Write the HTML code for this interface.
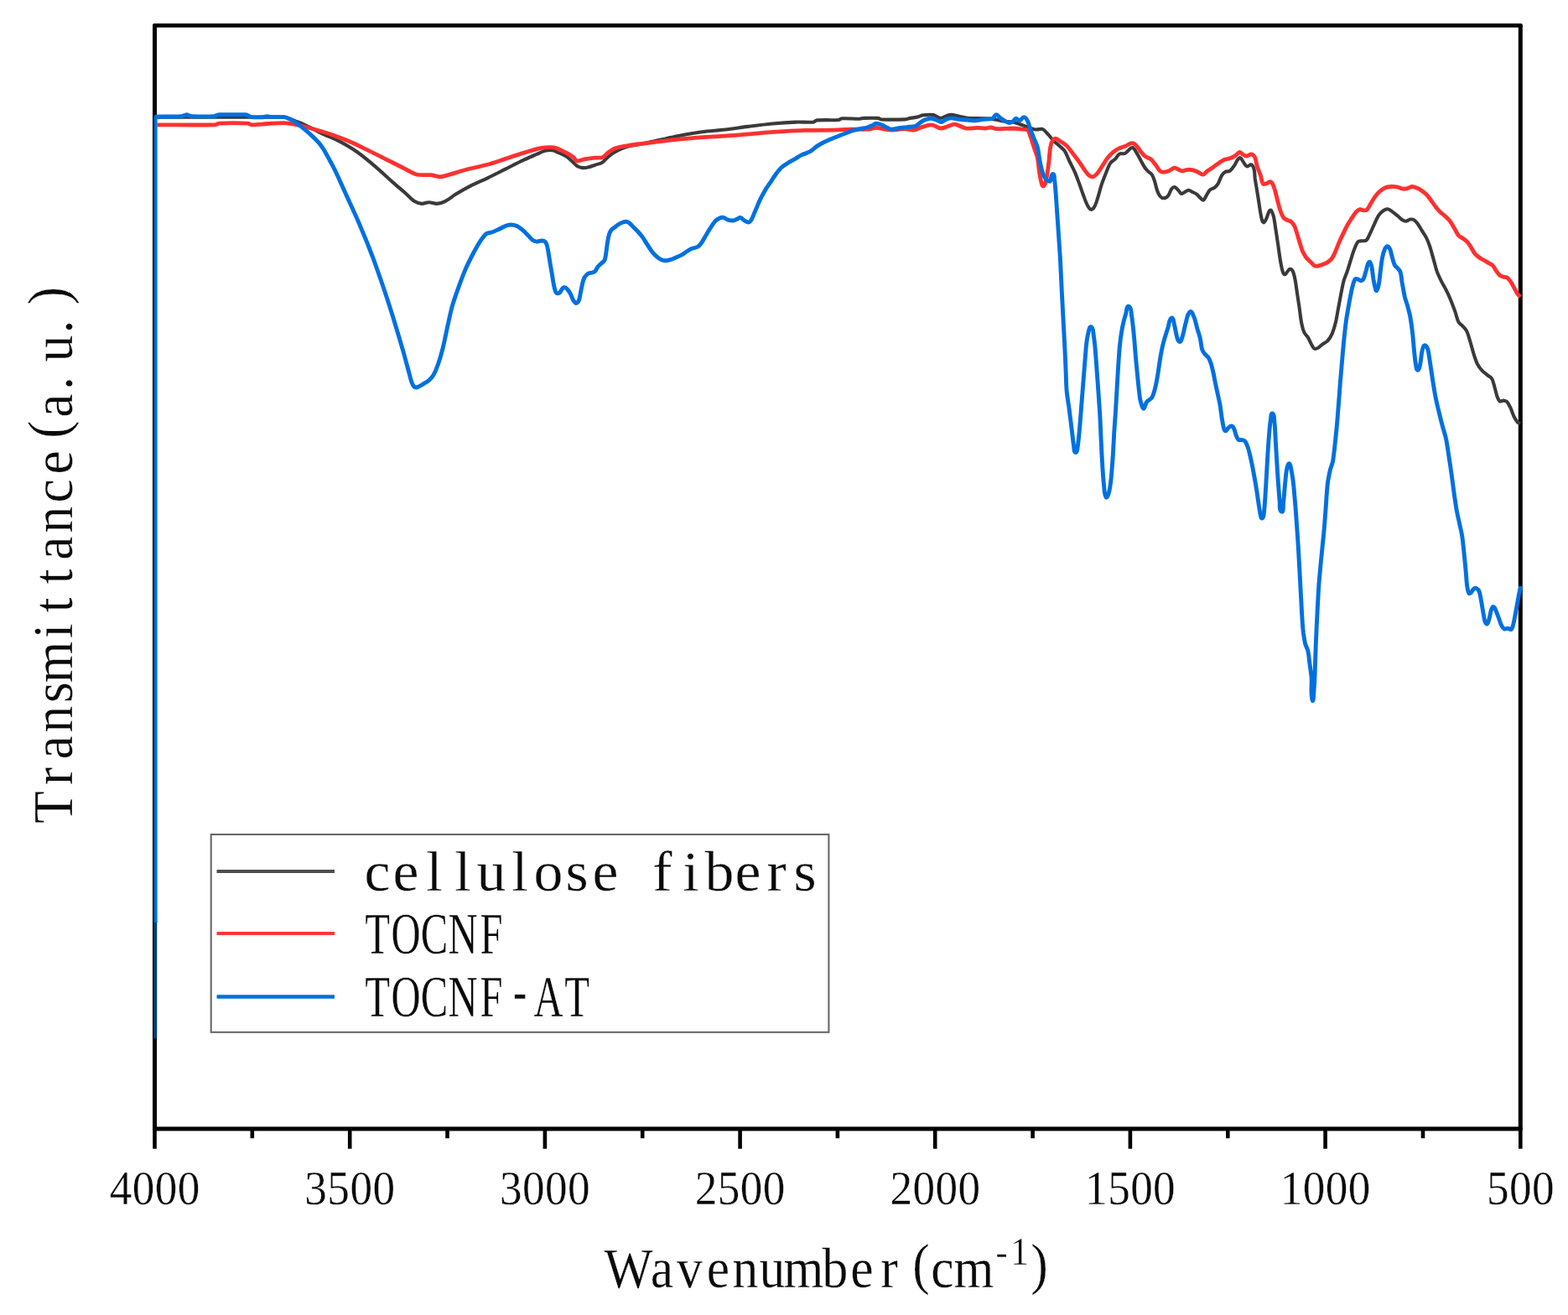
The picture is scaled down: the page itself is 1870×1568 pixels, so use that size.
<!DOCTYPE html>
<html lang="en">
<head>
<meta charset="utf-8">
<title>Transmittance - Wavenumber</title>
<style>
html,body{margin:0;padding:0;background:#fff;}
body{width:1870px;height:1568px;}
svg{display:block;}
text{font-family:"Liberation Serif","Noto Serif CJK SC",serif;fill:#0a0a0a;stroke:#fff;stroke-width:0.3px;}
</style>
</head>
<body>
<svg width="1870" height="1568" viewBox="0 0 1870 1568">
<rect width="1870" height="1568" fill="#fff"/>
<g id="axes" fill="none" stroke="#000" stroke-linecap="round">
<path d="M184.5 30.4 H1813.3" stroke-width="4.6"/>
<path d="M184.5 1345.9 H1813.3" stroke-width="5"/>
<path d="M184.5 30.4 V1345.9 M1813.3 30.4 V1345.9" stroke-width="5"/>
<path d="M184.5 1345.9 V1369.8M300.8 1345.9 V1357.3M417.2 1345.9 V1369.8M533.5 1345.9 V1357.3M649.9 1345.9 V1369.8M766.2 1345.9 V1357.3M882.6 1345.9 V1369.8M998.9 1345.9 V1357.3M1115.2 1345.9 V1369.8M1231.6 1345.9 V1357.3M1347.9 1345.9 V1369.8M1464.3 1345.9 V1357.3M1580.6 1345.9 V1369.8M1697 1345.9 V1357.3M1813.3 1345.9 V1369.8" stroke-width="4.6" stroke-linecap="butt"/>
</g>
<g id="curves" fill="none" stroke-linejoin="round" stroke-linecap="butt">
<path id="c-black" stroke="#3a3a3a" stroke-width="4.1" d="M184.3 139.8C230.5 139.8 292.1 139.4 338.3 139.8C340.3 139.8 342.8 140.5 344.7 141.1C346.7 141.7 349.2 143.1 351.1 143.9C354.3 145.2 358.7 146.7 361.8 148.1C368.3 151.2 376.7 155.7 383.2 158.8C389.6 161.8 398.4 165.2 404.6 168.4C411.2 171.9 419.9 177 426 181.3C432.7 186 441.1 193.1 447.4 198.4C454 204 462.3 211.9 468.8 217.6C473.2 221.6 479.3 226.6 483.7 230.5C487 233.3 490.8 237.8 494.4 240.1C496.7 241.6 500.3 242.7 503 242.9C505.6 243.1 508.9 241.2 511.6 241.2C514.5 241.2 518.2 243.1 521.2 242.9C524.2 242.7 528.1 241.5 530.8 240.1C534.9 238 539.7 234 543.6 231.6C548.7 228.5 555.5 224.6 560.7 221.9C566.8 218.8 575.2 215.3 581.4 212.3C587.8 209.2 596.4 204.8 602.8 201.6C609.2 198.4 617.7 194 624.2 190.9C629.2 188.5 636.1 185.7 641.3 183.4C643.8 182.3 647.1 180.5 649.8 179.8C652.3 179.2 655.9 178.8 658.4 179.1C661.1 179.6 664.4 181.3 667 182.4C669.6 183.5 673.1 185.1 675.5 186.6C677.6 188 680 190.3 681.9 192C683.9 193.7 686.1 196.6 688.3 198C690.1 199.1 692.7 199.9 694.8 200.1C696.7 200.3 699.3 199.9 701.2 199.5C703.8 198.9 707.2 197.5 709.7 196.7C712.3 195.8 716 195.1 718.3 193.7C720.5 192.3 722.7 189.4 724.7 187.7C726.6 186 729 183.7 731.1 182.4C734.2 180.5 738.5 178.3 741.8 177C744.9 175.8 749.2 174.5 752.5 173.8C758.9 172.4 767.5 171 773.9 169.7C780.3 168.4 788.9 166.4 795.3 165C799.5 164.1 805.2 162.8 809.4 162C817.7 160.5 828.8 158.5 837.2 157.3C845.5 156.2 856.7 155.5 865 154.5C873.2 153.6 884 151.9 892.2 150.9C900.8 149.8 912.2 148.3 920.9 147.5C929.2 146.7 940.3 145.9 948.7 145.6C955 145.3 963.6 146.1 969.9 145.6C971.4 145.4 972.8 143.5 974.2 143.4C981.9 142.8 992.2 143.5 999.9 143C1001.3 142.9 1002.8 141.4 1004.2 141.3C1010.6 141 1019.1 141.8 1025.6 141.7C1026.9 141.7 1028.5 140.9 1029.8 140.9C1035 140.7 1041.8 140.5 1047 140.9C1048.3 141 1049.9 142.3 1051.2 142.4C1059.6 142.7 1070.7 142.7 1079 142.4C1081 142.3 1083.5 141.2 1085.5 140.9C1088 140.4 1091.5 140.2 1094 139.6C1096 139.1 1098.4 137.7 1100.4 137.4C1104.2 136.9 1109.5 136.4 1113.3 137C1116 137.5 1119 140.8 1121.8 140.9C1124.6 140.9 1127.7 138.1 1130.4 137.4C1132.2 137 1134.9 136.8 1136.8 137C1139.4 137.3 1142.8 138.6 1145.3 139.1C1147.9 139.7 1151.3 140.7 1153.9 140.9C1160.3 141.3 1168.9 141 1175.3 141.3C1178.5 141.4 1182.8 141.9 1186 142.4C1189.2 142.8 1193.4 144 1196.7 144.5C1199.9 145 1204.2 144.9 1207.4 145.6C1210.7 146.2 1214.9 147.7 1218.1 148.8C1220.7 149.6 1224 151.1 1226.6 152C1229.2 152.8 1232.5 154.3 1235.2 154.5C1237.4 154.8 1240.4 153.5 1242.7 153.7C1243.6 153.8 1244.7 154.6 1245.3 155.2C1247.1 156.8 1249.1 159.2 1250.7 161C1252.7 163.2 1255 166.4 1257.1 168.5C1258.9 170.3 1261.7 172.2 1263.5 173.9C1265.5 175.7 1268.5 178 1269.9 180.3C1272.1 183.5 1273.6 188.5 1275.3 192C1277.2 195.9 1280 200.9 1281.7 204.9C1283.5 209 1285.5 214.6 1287.1 218.8C1288.7 223.2 1290.7 229.3 1292.4 233.7C1293.6 237 1295.1 241.4 1296.7 244.4C1297.7 246.3 1299 249.3 1301 249.8C1302.5 250.2 1304.4 248 1305.2 246.6C1307.1 243.3 1308.4 238.4 1309.5 234.8C1310.9 230.4 1312.3 224.3 1313.8 219.8C1315.2 215.6 1317.4 210.1 1319.1 205.9C1320.6 202.4 1322.3 197.4 1324.5 194.2C1325.6 192.5 1328.4 191.3 1329.8 189.9C1331.6 188.1 1333 184.7 1335.2 183.5C1336.9 182.5 1339.8 183.8 1341.6 183C1343.6 182.1 1345.2 179.5 1347 178.1C1348 177.3 1349.5 175.6 1350.8 176C1352.4 176.5 1353.5 178.9 1354.4 180.3C1356.2 183 1358.2 187 1359.8 189.9C1361.4 192.8 1363.3 196.8 1365.1 199.5C1366.2 201.1 1368 203.1 1369.4 204.4C1370.6 205.6 1372.7 206.7 1373.7 208.1C1375.1 210.1 1376.1 213.2 1376.9 215.6C1378.1 219 1378.9 223.9 1380.1 227.3C1380.8 229.4 1381.9 232.1 1383.3 233.7C1384.3 234.9 1386.1 236.3 1387.6 236.3C1389.4 236.3 1391.8 235.1 1392.9 233.7C1394.8 231.6 1395.5 227.5 1397.2 225.2C1398 224.2 1399.6 222.9 1400.9 223C1402.3 223.3 1403.6 225.2 1404.7 226.3C1406.1 227.6 1407.2 230.4 1409 231C1410.4 231.4 1412 229.5 1413.3 228.8C1414.5 228.2 1416.1 226.7 1417.5 226.7C1419 226.7 1420.5 228.2 1421.8 228.8C1423.4 229.6 1425.7 230.5 1427.2 231.6C1428.6 232.7 1430.1 234.7 1431.4 235.9C1432.5 236.8 1433.8 239.2 1435.1 238.7C1437 237.8 1437.8 234.5 1438.9 232.7C1440.2 230.7 1441.5 227.8 1443.2 226.3C1444.5 225 1447.2 224.8 1448.6 223.7C1450.1 222.5 1451.8 220.5 1452.8 218.8C1454.4 216 1455.5 211.8 1457.1 209.1C1458.1 207.6 1459.8 205.7 1461.4 204.9C1462.8 204.1 1465.4 204.7 1466.7 203.8C1468.8 202.4 1470.7 199.4 1472.1 197.4C1473.6 195.3 1474.8 191.9 1476.4 189.9C1477 189.1 1478.3 187.7 1479.1 188.2C1480.8 189 1481.7 191.6 1482.8 193.1C1484 194.7 1485.1 197.8 1487.1 198.4C1488.7 199 1490.8 195.7 1492.4 196.3C1494.2 197 1495.1 199.8 1495.6 201.7C1496.5 204.9 1496.3 209.5 1496.7 212.8C1497.6 218.6 1499 226.3 1499.9 232.1C1501 238.5 1502.1 247.1 1503.2 253.5C1503.7 256.4 1504.3 260.3 1505.3 263.1C1505.6 264 1506.7 265.7 1507.4 265.2C1509 264.3 1509.9 261.6 1510.6 259.9C1511.8 257.4 1512.4 253.7 1513.9 251.3C1514.2 250.8 1515.6 250.4 1516 250.9C1517.3 252.7 1518.2 255.6 1518.8 257.8C1519.9 262.2 1520.6 268.2 1521.3 272.7C1522.2 277.9 1523.1 284.7 1523.9 289.8C1524.8 295.6 1525.7 303.3 1526.7 309.1C1527.4 313.3 1528.3 318.9 1529.5 323C1529.9 324.4 1530.6 327 1532 327.3C1533.4 327.5 1534.3 325 1535.2 324.1C1536.2 323.1 1537.1 321.1 1538.4 320.9C1539.6 320.7 1541.1 322 1541.7 323C1543 325.7 1543.8 329.7 1544.4 332.6C1545.5 337.7 1546.2 344.6 1547 349.7C1547.8 354.9 1548.8 361.7 1549.6 366.8C1550.4 372.6 1551.2 380.4 1552.4 386.1C1553 389.4 1554.1 393.8 1555.6 396.8C1556.4 398.7 1558.8 400.4 1559.8 402.1C1561.3 404.6 1562.7 408.2 1564.1 410.7C1565 412.2 1565.8 414.7 1567.3 415.6C1568.5 416.3 1570.4 415.6 1571.6 415C1573.4 414 1575.3 411.9 1577 410.7C1578.8 409.3 1581.8 408.1 1583.4 406.4C1585.4 404.2 1587.5 400.6 1588.7 397.9C1590.4 393.8 1592 388.2 1593 384C1594.2 378.9 1595.2 372 1596.2 366.8C1597.2 361.7 1598.4 354.9 1599.4 349.7C1600.3 345.2 1601.4 339.2 1602.6 334.8C1603.6 331.1 1605.7 326.6 1606.9 323C1608.3 318.9 1609.8 313.2 1611.2 309.1C1612.4 305.2 1613.9 300 1615.5 296.3C1616.5 293.7 1617.8 290.1 1619.7 288.1C1620.6 287.2 1622.7 287.5 1624 287.3C1625.6 287 1628.1 287.7 1629.4 286.6C1631.3 285 1632.5 281.5 1633.6 279.1C1635.4 275.7 1637.3 270.9 1639 267.4C1640.5 264.1 1642.3 259.7 1644.3 256.7C1645.6 254.8 1647.8 252.6 1649.7 251.3C1651.1 250.3 1653.3 249 1655 249.2C1656.9 249.4 1658.8 251.3 1660.4 252.4C1662.4 253.8 1664.9 255.8 1666.8 257.3C1668.4 258.7 1670.4 260.8 1672.1 262C1673.3 262.8 1675 263.8 1676.4 263.7C1678.1 263.7 1680.1 261.9 1681.8 261.6C1683 261.4 1684.9 261.4 1686 262C1687.6 262.9 1689.2 264.9 1690.3 266.3C1692.1 268.7 1694.1 272.3 1695.7 274.9C1697.3 277.4 1699.7 280.7 1701 283.4C1702.6 286.5 1704.2 290.8 1705.3 294.1C1706.8 298.5 1708.3 304.6 1709.6 309.1C1710.9 313.6 1712.3 319.7 1713.9 324.1C1715.2 327.7 1717.5 332.4 1719.2 335.8C1720.7 338.8 1723.1 342.5 1724.5 345.5C1726.3 348.9 1728.4 353.6 1729.9 357.2C1731.6 361.3 1733.7 366.9 1735.2 371.1C1736.6 374.9 1737.6 380.4 1739.5 384C1740.6 386 1743.3 387.6 1744.9 389.3C1746.2 390.8 1748.3 392.8 1749.1 394.7C1750.9 398.3 1752.2 403.6 1753.4 407.5C1754.8 412 1756.3 418 1757.7 422.5C1758.8 426 1760.3 430.9 1762 434.2C1763.2 436.7 1765.5 439.7 1767.3 441.7C1769 443.6 1771.8 445.5 1773.7 447.1C1775.3 448.4 1778 449.6 1779.1 451.3C1780.7 453.9 1781.4 458 1782.3 461C1783.4 464.5 1784.3 469.3 1785.5 472.7C1786.2 474.6 1787.1 477.4 1788.7 478.5C1789.8 479.2 1791.7 477.5 1793 477.6C1794.4 477.7 1796.3 478.2 1797.3 479.1C1799.1 481 1800.4 484.3 1801.6 486.6C1803 489.8 1804.3 494.2 1805.8 497.3C1806.9 499.4 1808.5 502.1 1810.1 503.7C1810.8 504.5 1812.4 504.5 1813.3 504.8"/>
<path id="c-red" stroke="#ff3030" stroke-width="4.8" d="M187.5 148.8C208.3 148.8 236.2 149.3 257 148.8C258.4 148.7 259.9 147.1 261.3 147.1C271.5 146.6 285.3 146.6 295.5 147.1C296.9 147.1 298.4 148.7 299.8 148.8C305.6 148.9 313.3 147.8 319 147.5C324.8 147.2 332.5 146.5 338.3 146.6C342.2 146.7 347.3 147.4 351.1 148.1C357.6 149.4 366.1 151.7 372.5 153.5C379 155.3 387.6 157.7 393.9 159.9C400.4 162.1 409 165.3 415.3 168C421.8 170.8 430.3 175 436.7 178.1C443.1 181.2 451.7 185.6 458.1 188.8C464.5 192 473 196.3 479.5 199.5C484.6 202 491 206.5 496.6 208C501.5 209.4 508.6 208.2 513.7 208.7C516.9 209 521.1 210.7 524.4 210.8C527 210.9 530.4 209.8 532.9 209.1C539.4 207.3 547.9 204.4 554.3 202.7C562.4 200.5 573.3 198.5 581.4 196.3C587.9 194.5 596.4 191.5 602.8 189.4C609.2 187.3 617.7 184.4 624.2 182.4C629.3 180.8 636.1 178.7 641.3 177.4C643.8 176.8 647.2 176.1 649.8 175.9C653 175.7 657.4 175.4 660.5 175.9C663.2 176.4 666.6 178 669.1 179.1C671.7 180.3 675.2 182 677.6 183.4C679.7 184.6 682.3 186.3 684.1 187.7C685.5 188.8 686.6 191.7 688.3 192C691 192.4 694.3 190.3 696.9 189.8C700.7 189.2 705.9 188.5 709.7 188.1C712.3 187.9 715.9 188.6 718.3 187.7C720.6 186.8 722.7 183.8 724.7 182.4C727.2 180.6 730.5 178.2 733.3 177C736.3 175.8 740.7 175.1 744 174.4C747.8 173.7 752.9 172.8 756.8 172.3C760.1 171.9 764.4 171.6 767.7 171.2C776.1 170.2 787.2 168.6 795.5 167.6C803.8 166.6 815 165.5 823.3 164.8C831.6 164.1 842.8 163.4 851.1 162.9C859.5 162.3 870.6 161.8 878.9 161.2C887.3 160.5 898.5 159.3 907 158.6C915.3 157.9 926.4 157.2 934.8 156.7C942.3 156.2 952.4 155.6 960 155.4C969.4 155.2 981.9 155.4 991.3 155.2C998.4 155 1007.8 154.3 1014.9 154.1C1021.3 154 1029.9 154.5 1036.3 154.1C1038.9 154 1042.2 152.4 1044.8 152.4C1048.1 152.4 1052.3 153.7 1055.5 154.1C1058.1 154.5 1061.5 155.2 1064.1 155.2C1068.6 155.1 1074.5 153.7 1079 153.7C1082.3 153.7 1086.5 155.5 1089.7 155.2C1092.5 154.9 1095.7 152.8 1098.3 152C1102.1 150.8 1107.2 148.6 1111.1 148.8C1114.6 148.9 1118.4 152.9 1121.8 153C1125.2 153.2 1129.3 150.8 1132.5 149.8C1134.4 149.3 1137 147.8 1138.9 148.1C1143 148.8 1147.7 152.4 1151.8 153C1155.6 153.7 1160.7 152.4 1164.6 152.4C1167.8 152.4 1172.1 153.1 1175.3 153C1177.2 153 1179.8 151.9 1181.7 152C1183.7 152.1 1186.1 153.6 1188.1 153.7C1193.9 153.9 1201.6 153 1207.4 153C1210.6 153.1 1214.9 153.7 1218.1 154.1C1220.3 154.4 1223.8 153.8 1225.6 155.2C1227.5 156.7 1227.9 160.4 1228.8 162.7C1230.2 166.5 1231.8 171.7 1233 175.5C1234.3 179.4 1236.5 184.4 1237.3 188.3C1238.4 193.4 1238.7 200.3 1239.5 205.5C1240 208.7 1240.7 213 1241.6 216.1C1242.1 218 1242.4 222.2 1244.3 222C1246.4 221.8 1247 217.7 1247.5 215.6C1248.9 209.2 1249.8 200.6 1250.7 194.2C1251.6 187.8 1251.6 179 1253.3 172.8C1253.9 170.2 1255.7 166.2 1258.2 165.3C1260.2 164.5 1262.8 167.4 1264.6 168.5C1266.9 169.9 1270.1 171.9 1272.1 173.9C1275 176.8 1278.1 181.3 1280.6 184.5C1282.6 187.1 1285.2 190.5 1287.1 193.1C1289.1 195.9 1291.4 199.9 1293.5 202.7C1295 204.7 1296.9 207.5 1298.8 209.1C1299.9 210 1301.8 211.2 1303.1 210.9C1305 210.4 1307.1 208.5 1308.4 207C1310.7 204.4 1312.9 200.3 1314.9 197.4C1316.8 194.5 1319.1 190.5 1321.3 187.8C1323 185.6 1325.6 183.1 1327.7 181.3C1329.5 179.9 1332 178.1 1334.1 177.1C1336.6 175.8 1340.1 174.9 1342.7 173.9C1344.9 172.9 1347.7 170.6 1350.2 170.6C1352 170.6 1354.2 172.5 1355.5 173.9C1357.5 175.8 1359.1 179.2 1360.9 181.3C1362.3 183.1 1364.4 185.4 1366.2 186.7C1367.9 188 1371 188.5 1372.6 189.9C1374.6 191.5 1376.4 194.3 1378 196.3C1379.7 198.5 1381.3 201.9 1383.3 203.8C1384.3 204.7 1386.2 205.3 1387.6 205.3C1389.6 205.3 1392.2 204.5 1394 203.8C1396.1 203 1398.2 200.4 1400.4 200.2C1402.1 199.9 1404.2 201.7 1405.8 202.3C1407 202.8 1408.7 203.8 1410.1 203.8C1412 203.8 1414.5 202.5 1416.5 202.3C1418.1 202.2 1420.2 202.4 1421.8 202.7C1423.8 203.2 1426.4 204.1 1428.2 204.9C1430.2 205.7 1432.5 208.3 1434.7 208.1C1436.7 207.9 1438.3 205 1440 203.8C1442.2 202.2 1445.3 200.4 1447.5 198.9C1449.4 197.5 1451.9 195.5 1453.9 194.2C1455.8 192.9 1458.2 191.2 1460.3 190.3C1462.1 189.6 1464.9 189.5 1466.7 188.8C1468.8 188.1 1471.3 186.8 1473.2 185.6C1474.9 184.5 1476.5 181.6 1478.5 181.3C1480.1 181.2 1481.4 183.8 1482.8 184.5C1484 185.2 1485.7 186.1 1487.1 186C1488.8 185.9 1490.7 183.6 1492.4 183.9C1494.1 184.2 1495.9 186.2 1496.7 187.8C1498.1 190.7 1498.3 195.3 1499.3 198.4C1500.2 201.6 1502.1 205.5 1503.2 208.6C1504.2 211.7 1504.4 216.5 1506.4 219.3C1507.1 220.3 1509.4 219.2 1510.6 218.8C1512 218.4 1513.5 216.4 1514.9 216.7C1516.3 217 1517.5 219 1518.1 220.3C1519.5 223.1 1520.5 227 1521.3 229.9C1522.4 233.8 1523.5 239 1524.5 242.8C1525.4 246 1526.6 250.3 1527.8 253.5C1528.5 255.5 1529.6 258.2 1531 259.9C1531.9 261 1533.9 261.8 1535.2 262.5C1536.5 263.1 1538.5 263.3 1539.5 264.2C1541.1 265.5 1542.9 267.7 1543.8 269.5C1545.2 272.2 1546.1 276.2 1547 279.1C1548 282.3 1549.2 286.6 1550.2 289.8C1551.1 292.7 1552.2 296.7 1553.4 299.5C1554.5 301.8 1556.1 304.9 1557.7 307C1559.1 308.8 1561.4 310.7 1563 312.3C1564.3 313.6 1565.8 315.7 1567.3 316.6C1568.5 317.2 1570.3 317.4 1571.6 317.2C1573.3 317 1575.4 316.1 1577 315.5C1578.6 314.9 1580.8 314.3 1582.3 313.4C1584.1 312.3 1586.3 310.7 1587.6 309.1C1589.3 307.1 1590.8 303.9 1591.9 301.6C1593.4 298.5 1594.8 294.1 1596.2 290.9C1597.7 287.3 1599.9 282.6 1601.6 279.1C1603.1 275.9 1605.2 271.6 1606.9 268.4C1608.4 265.8 1610.6 262.4 1612.2 259.9C1613.8 257.6 1615.7 254.4 1617.6 252.4C1618.6 251.3 1620.4 249.9 1621.9 249.6C1623.2 249.4 1624.8 250.8 1626.1 250.9C1627.3 251 1629.2 251.1 1630 250.3C1631.9 248.4 1633.3 245 1634.7 242.8C1636.3 240.2 1638.3 236.7 1640.1 234.2C1641.5 232.3 1643.6 229.8 1645.4 228.2C1647.1 226.7 1649.7 224.9 1651.8 224C1653.6 223.1 1656.3 222.6 1658.2 222.5C1660.8 222.3 1664.3 222.6 1666.8 223.1C1668.8 223.5 1671.2 225 1673.2 225.2C1674.8 225.4 1677 225 1678.6 224.6C1680.2 224.2 1682.2 222.6 1683.9 222.5C1685.6 222.4 1687.7 223.3 1689.3 224C1690.9 224.6 1693.1 225.7 1694.6 226.7C1696.6 228.1 1699.3 229.9 1701 231.7C1702.9 233.5 1704.8 236.4 1706.4 238.5C1708 240.7 1710 243.8 1711.7 246C1713.2 248 1715.3 250.6 1717.1 252.4C1718.5 253.9 1720.9 255.3 1722.4 256.7C1724.4 258.5 1727.1 261 1728.8 263.1C1730.7 265.5 1732.6 269.1 1734.2 271.7C1735.8 274.4 1737.5 278.4 1739.5 280.9C1740.8 282.3 1743.3 283.3 1744.9 284.5C1746.5 285.7 1748.8 287.2 1750.2 288.8C1751.8 290.5 1753.3 293.2 1754.5 295.2C1755.8 297.3 1757.2 300.3 1758.8 302.2C1760.1 303.9 1762.4 305.7 1764.1 307C1765.6 308.1 1767.9 309.2 1769.5 310.2C1771.1 311.1 1773.2 312.4 1774.8 313.4C1776.4 314.3 1778.8 315.3 1780.2 316.6C1781.8 318.2 1783.1 321.1 1784.4 323C1785.6 324.7 1787.1 327 1788.7 328.3C1789.8 329.2 1791.7 329.7 1793 330.1C1794.2 330.4 1796.2 330.2 1797.3 330.9C1798.9 332 1800.4 334.2 1801.6 335.8C1803 338 1804.5 341.1 1805.8 343.3C1807.1 345.6 1808.6 348.7 1810.1 350.8C1810.9 351.9 1812.4 353 1813.3 354"/>
<path stroke="#003a74" stroke-width="4.2" d="M185.1 1238.5 V1098"/>
<path stroke="#0050a4" stroke-width="2" d="M184 1100 V139"/>
<path stroke="#0078e4" stroke-width="2.7" d="M186.3 1100 V137"/>
<path id="c-blue" stroke="#0070e0" stroke-width="4.9" d="M184.3 139.1C193.9 139 206.7 139.1 216.4 138.7C217.4 138.7 218.6 137.9 219.6 137.6C220.5 137.4 221.8 136.8 222.8 136.8C223.8 136.8 225 137.6 226 137.9C226.9 138.1 228.2 138.7 229.2 138.7C236.9 138.9 247.2 139 254.9 138.7C255.9 138.7 257.1 137.9 258.1 137.6C259 137.4 260.3 136.8 261.3 136.8C270.9 136.6 283.7 136.4 293.4 136.8C294.4 136.8 295.6 137.7 296.6 138.1C297.6 138.5 298.7 139.5 299.8 139.6C303.6 140 308.8 139.9 312.6 139.8C313.6 139.8 314.9 139.3 315.8 139.1C316.8 139 318.1 138.7 319 138.7C320.3 138.8 322 139.3 323.3 139.4C327.2 139.6 332.3 139.5 336.1 139.6C337.3 139.6 338.9 139.3 340 139.7C343.2 140.8 347.3 142.6 350.2 144.3C353.5 146.3 357.4 149.5 360.4 151.9C363.5 154.4 367.6 157.9 370.6 160.6C373.8 163.5 377.9 167.6 380.8 170.8C382.5 172.8 384.5 175.8 385.9 178C387.6 180.7 389.5 184.4 391 187.1C392.5 189.9 394.6 193.5 396.1 196.3C397.7 199.3 399.7 203.4 401.2 206.5C402.8 209.9 404.8 214.4 406.3 217.8C407.8 221.2 409.9 225.6 411.4 229C412.9 232.4 415 236.8 416.5 240.2C418 243.6 420.1 248 421.6 251.4C423.1 254.8 425.2 259.3 426.7 262.7C428.3 266.3 430.3 271.2 431.8 274.9C433.3 278.6 435.4 283.4 436.9 287.1C439.3 293.2 442.5 301.3 444.8 307.4C447.7 315.1 451.3 325.5 454 333.3C456.9 341.6 460.6 352.7 463.3 361.1C466.2 370 469.8 381.8 472.5 390.7C475.4 400.1 479.1 412.7 481.8 422.1C483.5 428.2 485.6 436.4 487.3 442.5C488.4 446.5 489.6 452 491 455.9C491.6 457.5 492.6 459.7 493.8 461C494.4 461.7 495.7 462.2 496.6 462C499 461.4 501.8 459.5 504 458.3C506.3 457 509.4 455.3 511.4 453.6C513.3 451.9 515.6 449.4 516.9 447.2C519 443.5 521.1 438.2 522.5 434.2C524.4 428.7 526.6 421.3 528 415.7C529.9 408 531.9 397.6 533.6 389.8C535.2 382.6 537.1 372.9 539.1 365.8C541 359 544.1 350.2 546.5 343.6C549.1 336.3 552.7 326.6 555.8 319.5C558.3 313.8 562.1 306.5 565 301C567.1 297.1 569.9 291.8 572.4 288.1C574.4 285.1 577.2 281 580 278.8C581.6 277.5 584.6 277.7 586.5 277C588.8 276.2 591.8 274.8 594 273.8C596.6 272.6 599.9 270.6 602.6 269.5C604.4 268.8 607 268 609 268C611.3 268 614.4 268.6 616.5 269.5C619 270.7 621.9 273.1 624 274.9C626 276.6 628.4 279.4 630.4 281.3C632 282.9 633.9 285.3 635.7 286.6C636.8 287.4 638.6 288 640 288.1C641.3 288.2 643 287.4 644.3 287.3C645.6 287.1 647.4 286.7 648.6 287.3C649.9 287.9 651.2 289.6 651.8 290.9C652.9 293.7 653.4 297.6 653.9 300.5C654.6 304.4 655.4 309.5 656 313.4C656.7 317.2 657.5 322.4 658.2 326.2C658.8 330.1 659.6 335.2 660.3 339C660.8 341.6 661.5 345.1 662.5 347.6C662.8 348.4 663.7 349.6 664.6 349.7C665.6 349.9 667.1 349.4 667.8 348.7C669.1 347.5 669.7 344.9 671 343.7C671.8 343.1 673.3 342.6 674.2 342.9C675.5 343.3 676.6 344.9 677.4 345.9C678.5 347.3 679.8 349.2 680.6 350.8C681.8 353 682.6 356.2 683.9 358.3C684.6 359.5 685.7 361.6 687.1 361.5C688.6 361.4 689.9 359.2 690.5 357.8C691.6 355 692 351 692.6 348.1C693.3 344.9 694 340.6 694.8 337.4C695.3 335.5 695.9 332.8 696.9 331C697.9 329.4 699.6 327.3 701.2 326.3C702.6 325.4 705 325.5 706.5 325C707.5 324.7 709 324.3 709.7 323.5C711 322.2 711.8 319.7 712.9 318.2C714.1 316.7 715.9 315.2 717.2 313.9C718.3 312.9 720.2 312 720.9 310.7C721.9 308.6 722.2 305.5 722.6 303.2C723.2 299.4 723.7 294.2 724.3 290.4C724.8 287.1 725.5 282.8 726.4 279.7C726.9 278 727.9 275.7 729 274.3C730.3 272.7 732.7 271.3 734.3 270.1C735.9 268.9 737.9 267.3 739.7 266.4C741.5 265.5 744.1 264.4 746.1 264.3C747.5 264.2 749.3 265 750.4 265.8C752.2 267.1 754.1 269.5 755.7 271.1C757.3 272.7 759.5 274.8 761.1 276.5C762.8 278.3 765 280.8 766.4 282.9C768.2 285.4 770.1 288.9 771.8 291.4C773.3 293.8 775.4 297.1 777.1 299.4C778.6 301.3 780.7 303.7 782.5 305.3C783.9 306.7 786 308.3 787.8 309.2C789.3 309.9 791.5 310.6 793.2 310.7C795.1 310.8 797.7 310.2 799.6 309.6C801.6 309.1 804.1 307.9 806 307.1C808.3 306.1 811.3 304.8 813.5 303.6C815.2 302.7 817.2 301 818.8 300C820.4 299 822.5 297.5 824.2 296.8C825.7 296.1 828 295.9 829.5 295.3C830.9 294.8 832.7 294 833.8 292.9C835.4 291.5 836.9 289 838.1 287.2C839.5 285 841 281.9 842.4 279.7C843.9 277.1 846 273.6 847.7 271.1C849.2 268.8 851.1 265.6 853 263.6C854.4 262.2 856.6 260.8 858.4 260C859.6 259.5 861.4 259.1 862.7 259.4C864.4 259.8 866.3 261.6 868 262.1C869.9 262.7 872.5 263.2 874.4 263C876.2 262.8 878.2 261.5 879.8 260.9C880.8 260.4 882 259.1 883 259.4C884.6 259.7 885.9 261.7 887.3 262.6C888.8 263.5 890.8 265.1 892.6 265.1C893.9 265.1 895.2 263.6 895.8 262.6C897.5 259.9 898.8 255.8 900.1 252.9C902.1 248.5 904.4 242.4 906.5 238C908.3 234.3 910.9 229.7 912.9 226.2C914.7 223.2 917.4 219.5 919.4 216.6C921.3 213.7 923.7 209.7 925.8 207C927.6 204.6 930 201.4 932.2 199.5C934.5 197.4 938.1 195.3 940.7 193.7C943.3 192.1 946.7 190.3 949.3 188.8C951.2 187.6 953.7 185.9 955.7 184.9C958.6 183.5 962.9 182.4 965.7 180.9C968.5 179.3 971.5 176.2 974.2 174.4C976.7 172.8 980.1 170.8 982.8 169.5C985.9 168 990.2 166.2 993.5 164.8C996.7 163.5 1001 161.8 1004.2 160.5C1007.4 159.3 1011.6 157.3 1014.9 156.3C1018 155.3 1022.3 154.4 1025.6 153.7C1028.1 153.1 1031.6 152.7 1034.1 152C1036.1 151.4 1038.6 150.2 1040.5 149.4C1041.8 148.8 1043.4 147.4 1044.8 147.3C1046.8 147.2 1049.4 148.1 1051.2 148.8C1053.3 149.5 1055.7 151.1 1057.6 152C1059.2 152.7 1061.3 154 1063 154.1C1065.3 154.3 1068.2 153.4 1070.5 153C1073.7 152.6 1078 152 1081.2 151.6C1084.4 151.1 1088.8 151.3 1091.9 150.3C1094.1 149.5 1096.3 146.8 1098.3 145.6C1100.1 144.4 1102.7 143 1104.7 142.4C1106.6 141.7 1109.2 141.1 1111.1 141.3C1113.1 141.5 1115.6 142.7 1117.5 143.4C1119.2 144 1121.2 145.7 1122.9 145.6C1124.7 145.4 1126.5 143 1128.2 142.4C1130.1 141.6 1132.7 140.9 1134.7 140.9C1137.3 140.9 1140.6 142.1 1143.2 142.4C1146.4 142.7 1150.7 142.7 1153.9 143C1156.5 143.2 1159.9 143.9 1162.5 143.9C1165.7 143.7 1169.9 142.7 1173.2 142.4C1176.4 142 1180.8 142.4 1183.9 141.3C1185.6 140.6 1186.2 136.8 1188.1 136.6C1189.8 136.4 1191.1 139.2 1192.4 140.2C1194.3 141.6 1196.8 143.4 1198.8 144.5C1200.3 145.3 1202.4 146.6 1204.2 146.6C1205.6 146.6 1207.3 145.3 1208.4 144.5C1209.6 143.7 1210.3 141.4 1211.7 141.3C1213.1 141.2 1214.5 144.1 1215.9 143.9C1218 143.5 1219.2 139.4 1221.3 139.6C1223.2 139.7 1224.7 142.8 1225.6 144.5C1227 147.2 1227.7 151.3 1228.8 154.1C1230 157.4 1231.8 161.6 1233 164.8C1234.3 168 1236.4 172.2 1237.3 175.5C1238.4 179.3 1238.8 184.5 1239.5 188.3C1240.1 191.6 1240.8 195.9 1241.6 199C1242.4 202.3 1243.4 206.7 1244.8 209.7C1245.7 211.6 1247.5 213.7 1249.1 215.1C1249.9 215.7 1251.6 216.9 1252.3 216.1C1254.1 214.1 1253 208.6 1255.5 207.6C1257.4 206.8 1257.4 212 1257.6 214C1258.9 224.1 1259.6 237.6 1260.3 247.6C1261 257.3 1261.8 270.1 1262.5 279.7C1263.1 289.4 1264.1 302.2 1264.6 311.8C1265.1 321.4 1265.6 334.3 1266.1 343.9C1266.6 353.5 1267.3 366.4 1267.8 376C1268.3 385.6 1269 398.4 1269.5 408.1C1270 417.7 1270.6 430.5 1271 440.2C1271.4 447.8 1271.4 458 1272.1 465.7C1272.7 472.8 1274.4 482.1 1275.3 489.2C1276.3 496.9 1277.5 507.2 1278.5 514.9C1279.1 520 1279.8 526.9 1280.6 532C1281 534.3 1280.4 539.5 1282.8 539.5C1285.2 539.5 1285 534.3 1285.3 532C1286.6 523.7 1287.4 512.5 1288.1 504.2C1290.4 477.3 1292.8 441.4 1295.2 414.5C1295.7 409.3 1296.5 402.4 1297.8 397.4C1298.4 395 1299 389.1 1301.4 389.9C1304.2 390.8 1303.7 396.6 1304.2 399.5C1305.3 406.5 1306.2 416 1306.7 423C1308.4 444.2 1310.3 472.3 1311.7 493.5C1312.3 503.1 1312.7 515.9 1313.2 525.6C1313.6 535.2 1314.3 548 1314.9 557.6C1315.3 564.1 1315.8 572.6 1316.6 579C1317.1 583.2 1316.8 589.4 1319.1 592.9C1320.2 594.5 1321.9 589.4 1322.4 587.6C1323.7 582.6 1324.6 575.7 1325.1 570.5C1326 562.2 1326.7 551 1327.3 542.7C1327.8 534.3 1328.3 523.2 1328.8 514.9C1329.2 508.4 1329.9 499.9 1330.3 493.5C1331.8 469.8 1333.3 438.2 1335.2 414.5C1335.8 407.4 1337.1 398 1338.4 391C1339.4 385.8 1341.1 378.9 1342.7 373.9C1343.5 371.2 1343.6 364.5 1346.3 365.3C1349.5 366.3 1348.9 372.7 1349.5 376C1350.7 383 1351.6 392.4 1352.3 399.5C1353.1 407.2 1353.7 417.5 1354.4 425.2C1355.8 439.9 1357.5 459.6 1359.4 474.2C1359.7 477.2 1360.9 481 1361.9 483.9C1362.3 484.9 1363.2 487.8 1364.1 487.1C1366 485.5 1366 481.6 1367.3 479.6C1367.9 478.5 1369.5 477.6 1370.5 476.8C1371.4 476 1373.1 475.3 1373.7 474.2C1375.1 471.9 1376.2 468.3 1376.9 465.7C1378.1 461.2 1379.3 455.2 1380.1 450.7C1381.6 442.4 1382.9 431.3 1384.4 423C1385.2 418.5 1386.4 412.5 1387.6 408.1C1389 402.9 1391.2 396.1 1392.9 391C1394.1 387.4 1394 381.1 1397.2 379.2C1399.3 378 1399.8 384.3 1400.4 386.7C1401.7 391.1 1402.3 397.3 1403.6 401.7C1404.2 403.6 1404.8 407.6 1406.8 407.6C1408.9 407.6 1409.4 403.6 1410.1 401.7C1411.7 396.6 1412.8 389.6 1414.3 384.5C1415.5 380.6 1415.8 374 1419.3 371.7C1421.2 370.4 1423 375.9 1424 378.1C1425.8 382.4 1426.9 388.6 1428.2 393.1C1429.2 396.3 1430.7 400.5 1431.4 403.8C1432.3 407.6 1432.5 412.9 1433.6 416.6C1434.1 418.4 1435.6 420.5 1436.8 422C1437.9 423.4 1440.1 424.7 1441.1 426.3C1442.4 428.3 1443.5 431.4 1444.3 433.7C1445.5 437.5 1446.6 442.7 1447.5 446.6C1447.9 448.4 1448.2 451 1448.6 452.8C1449.5 457.3 1450.8 463.3 1451.8 467.8C1452.7 472.3 1454.2 478.3 1455 482.8C1455.8 487.2 1456.4 493.3 1457.1 497.8C1457.7 501.3 1458.3 506.1 1459.3 509.5C1459.6 510.9 1460 513.5 1461.4 513.8C1462.7 514.1 1463.5 511.5 1464.6 510.6C1465.7 509.7 1467.1 508 1468.4 508C1469.6 508 1470.9 509.5 1471.4 510.6C1472.7 513 1473.2 516.6 1474.2 519.1C1474.9 520.8 1475.6 523.3 1477 524.5C1477.8 525.2 1479.6 524.3 1480.6 524.5C1481.8 524.7 1483.5 524.7 1484.3 525.6C1485.8 527.1 1486.9 529.9 1487.7 532C1488.9 535.1 1489.9 539.4 1490.7 542.7C1491.6 546.5 1492.7 551.6 1493.5 555.5C1494.4 560 1495.5 566 1496.3 570.5C1497.1 575 1498.1 581 1498.8 585.5C1499.5 589.9 1500.3 595.9 1501 600.4C1501.6 604.3 1502.2 609.5 1503.1 613.3C1503.5 614.8 1503.9 618.7 1505.2 618C1507.2 617 1507.1 613.3 1507.4 611.1C1508.2 604.7 1508.7 596.2 1509.1 589.7C1509.6 582 1510.1 571.8 1510.6 564.1C1511 556.4 1511.6 546.1 1512.1 538.4C1512.5 531.3 1513.2 521.9 1513.8 514.9C1514.2 510.4 1514.7 504.3 1515.5 499.9C1515.9 497.8 1515.7 492.1 1517.6 493C1520.1 494.3 1519.5 499.3 1519.8 502C1520.6 509.1 1520.9 518.5 1521.3 525.6C1521.8 533.3 1522.3 543.5 1522.8 551.2C1523.3 558.9 1523.9 569.2 1524.5 576.9C1525 583.3 1525.5 591.9 1526.2 598.3C1526.6 601.9 1525.1 608.4 1528.3 610.1C1531 611.4 1530.1 603.4 1530.5 600.4C1531.2 594.7 1531.6 586.9 1532.2 581.2C1532.7 576 1533.2 569.2 1533.9 564.1C1534.2 561.5 1534.8 558 1535.6 555.5C1535.9 554.6 1537 552.2 1537.8 552.9C1539.3 554.5 1539.4 557.7 1539.9 559.8C1540.7 563.6 1541.5 568.7 1542 572.6C1542.7 577.7 1543.3 584.6 1543.7 589.7C1544.3 596.1 1545 604.7 1545.5 611.1C1545.9 617.5 1546.5 626.1 1547 632.5C1547.4 638.9 1548.1 647.5 1548.4 653.9C1549 663.5 1549.6 676.4 1550.2 686C1550.7 695.6 1551.3 708.5 1551.9 718.1C1552.3 725.8 1552.8 736 1553.4 743.7C1553.6 747 1554 751.4 1554.4 754.6C1555 758.5 1555.6 763.6 1556.6 767.4C1557.2 770.1 1559.2 773.3 1559.8 776C1560.8 780.4 1561.3 786.5 1561.9 791C1562.6 796.1 1563.7 802.9 1564.1 808.1C1564.7 816.1 1562.8 827.1 1565.1 834.8C1566.5 839.5 1566.9 823.6 1567.3 818.8C1567.8 812.4 1568.1 803.8 1568.3 797.4C1568.7 787.8 1569 774.9 1569.4 765.3C1569.8 755.7 1570.4 742.8 1570.9 733.2C1571.4 723.6 1572 710.7 1572.6 701.1C1573.1 693.4 1574.1 683.2 1574.8 675.5C1575.3 669 1576.3 660.5 1576.9 654.1C1577.5 647.6 1578.5 639.1 1579 632.7C1579.8 624.3 1580.5 613.2 1581.2 604.9C1581.8 596.5 1582.3 585.4 1583.3 577.1C1583.9 571.9 1585.3 565 1586.5 559.9C1587.3 556.7 1589.2 552.6 1589.7 549.3C1591.5 537.6 1592.9 521.9 1594.1 510.2C1594.8 502.5 1595.6 492.2 1596.2 484.5C1596.9 476.2 1597.7 465 1598.3 456.7C1599 449 1599.8 438.7 1600.5 431C1601.1 424 1601.9 414.5 1602.6 407.5C1603.3 400.4 1604.3 391 1605.2 384C1605.9 378.8 1607.1 372 1608 366.8C1608.9 361.7 1610.1 354.8 1611.2 349.7C1611.8 346.5 1612.8 342.2 1613.7 339C1614.4 337 1615 334.1 1616.5 332.6C1617.2 331.9 1618.8 332.7 1619.7 333C1620.8 333.4 1621.9 334.8 1622.9 334.8C1624.1 334.7 1625.6 333.7 1626.1 332.6C1627.6 329.6 1628.4 325.1 1629.4 321.9C1630 319.7 1630.5 316.6 1631.5 314.4C1631.9 313.6 1632.9 311.8 1633.6 312.3C1635 313.3 1635.4 316 1635.8 317.6C1636.7 322.1 1637.2 328.1 1637.9 332.6C1638.5 335.8 1639.2 340.2 1640.1 343.3C1640.3 344.4 1641 347.3 1641.8 346.5C1643.4 344.8 1643.9 341.4 1644.3 339C1645.3 334 1645.8 327.1 1646.5 321.9C1647.1 317.4 1647.7 311.4 1648.6 307C1649.2 304 1650.2 300.1 1651.4 297.3C1652 296 1653.1 293.7 1654.6 293.7C1656.1 293.7 1657.2 296 1657.8 297.3C1659 300.1 1659.5 304.1 1660.4 307C1661.2 309.9 1662.2 313.9 1663.6 316.6C1664.2 317.8 1665.9 318.8 1666.8 319.8C1667.8 321 1669.5 322.5 1670 324.1C1671.2 327.8 1671.5 333.1 1672.1 336.9C1673.1 342 1674.2 348.9 1675.3 354C1676.1 357.3 1677.7 361.5 1678.6 364.7C1679.6 368.5 1681 373.6 1681.8 377.5C1682.8 383.3 1683.9 391 1684.5 396.8C1685.3 403.2 1685.8 411.8 1686.5 418.2C1687 423.3 1687.7 430.2 1688.6 435.3C1689 437.2 1688.8 441.3 1690.7 441.3C1692.7 441.3 1693.1 437.2 1693.5 435.3C1694.6 430.9 1694.8 424.8 1695.7 420.3C1696.1 418 1696.8 414.9 1697.8 412.8C1698.1 412.2 1699.3 411.4 1699.9 411.8C1701.2 412.6 1702.3 414.6 1702.7 416C1703.9 420.4 1704.6 426.5 1705.3 431C1706.3 437.4 1707.5 446 1708.5 452.4C1709.4 458.2 1710.6 465.9 1711.7 471.7C1712.8 477.5 1714.6 485.2 1716 490.9C1717.2 496.1 1718.9 502.9 1720.3 508C1721.5 512.5 1723.6 518.4 1724.5 523C1725.8 528.9 1726.8 536.9 1727.7 542.8C1728.7 549.2 1730 557.8 1730.9 564.2C1731.9 571.3 1733.1 580.7 1734.1 587.8C1735 594.2 1736.2 602.8 1737.3 609.1C1738.1 613.7 1739.6 619.6 1740.5 624.1C1741.5 628.6 1743 634.6 1743.7 639.1C1744.6 644.8 1745.3 652.6 1745.9 658.3C1746.6 664.8 1747.4 673.3 1748 679.7C1748.6 685.5 1748.9 693.2 1749.7 699C1750.1 701.6 1750.5 705.3 1751.9 707.5C1752.3 708.2 1753.8 707 1754.4 706.5C1755.6 705.4 1756.4 703.2 1757.6 702.2C1758.4 701.6 1760 701.1 1760.9 701.6C1762.2 702.2 1763.6 704 1764.1 705.4C1765.4 709.1 1766.1 714.4 1766.8 718.2C1767.7 722.7 1768.4 728.8 1769.4 733.2C1770.1 736.5 1770 741.8 1772.6 743.9C1774.1 745.1 1775.2 740.3 1775.8 738.6C1777 735.1 1777.4 730.2 1778.6 726.8C1779 725.6 1780 723.2 1781.2 723.6C1782.9 724.2 1783.6 727.2 1784.4 728.9C1785.5 731.4 1786.6 734.9 1787.6 737.5C1788.6 740.1 1789.5 743.6 1790.8 746C1791.5 747.4 1792.6 749.3 1794 749.9C1795.2 750.4 1797 749.2 1798.3 749.3C1799.6 749.3 1801.8 751.4 1802.6 750.3C1804.6 747.7 1805 742.9 1805.8 739.6C1806.9 734.5 1808 727.6 1809 722.5C1809.9 717.4 1811.1 710.5 1812.2 705.4C1812.6 703.5 1813.4 700.9 1813.9 699"/>
</g>
<g id="legend">
<rect x="251.7" y="995" width="736.7" height="235.8" fill="#fff" stroke="#686868" stroke-width="2.1"/>
<path d="M258.5 1039 H399" stroke="#4d4d4d" stroke-width="4.2"/>
<path d="M258.5 1113 H399" stroke="#ff3838" stroke-width="4.2"/>
<path d="M258.5 1188.5 H399" stroke="#0070e0" stroke-width="4.3"/>
<text x="432.7 465.4 498.1 530.8 563.5 596.2 628.8 661.5 694.2 726.9 759.6 792.3 825 857.7 890.4 923.1" y="1062.3" font-size="67" text-anchor="middle" transform="scale(1.04 1)">cellulose fibers</text>
<text x="652.2 701.4 750.7 800 849.3" y="1136.8" font-size="70.5" text-anchor="middle" transform="scale(0.69 1)">TOCNF</text>
<text x="652.2 701.4 750.7 800 849.3 898.6 947.8 997.1" y="1211.8 1211.8 1211.8 1211.8 1211.8 1204.8 1211.8 1211.8" font-size="70.5" text-anchor="middle" transform="scale(0.69 1)">TOCNF-AT</text>
</g>
<g id="ticklabels">
<text x="151.6 180 208.4 236.8" y="1435.8" font-size="56" text-anchor="middle" transform="scale(0.95 1)">4000</text>
<text x="396.5 424.9 453.4 481.8" y="1435.8" font-size="56" text-anchor="middle" transform="scale(0.95 1)">3500</text>
<text x="641.4 669.9 698.3 726.7" y="1435.8" font-size="56" text-anchor="middle" transform="scale(0.95 1)">3000</text>
<text x="886.4 914.8 943.2 971.6" y="1435.8" font-size="56" text-anchor="middle" transform="scale(0.95 1)">2500</text>
<text x="1131.3 1159.7 1188.2 1216.6" y="1435.8" font-size="56" text-anchor="middle" transform="scale(0.95 1)">2000</text>
<text x="1376.2 1404.7 1433.1 1461.5" y="1435.8" font-size="56" text-anchor="middle" transform="scale(0.95 1)">1500</text>
<text x="1621.2 1649.6 1678 1706.4" y="1435.8" font-size="56" text-anchor="middle" transform="scale(0.95 1)">1000</text>
<text x="1880.3 1908.7 1937.2" y="1435.8" font-size="56" text-anchor="middle" transform="scale(0.95 1)">500</text>
</g>
<text x="814.7 858.2 894 931 966.3 1001.1 1041.8 1082.6 1117.4 1152.7 1194 1221.7 1262.5 1298.4 1321.7 1347.3" y="1535.3 1535.3 1535.3 1535.3 1535.3 1535.3 1535.3 1535.3 1535.3 1535.3 1530.3 1535.3 1535.3 1508.3 1508.3 1530.3" font-size="67" text-anchor="middle" transform="scale(0.92 1)">Wavenumber(cm<tspan font-size="46">-1</tspan>)</text>
<text x="14.7 53.7 89.5 125.3 158.9 196.8 235.8 268.4 304.2 340 375.8 411.6 447.4 488.9 518.9 546.8 590.5 617.9 656.8" y="0 0 0 0 0 0 0 0 0 0 0 0 0 -6 0 0 0 0 -6" font-size="67" text-anchor="middle" transform="translate(86 976.5) rotate(-90) scale(0.95 1)">Transmittance(a.u.)</text>
</svg>
</body>
</html>
